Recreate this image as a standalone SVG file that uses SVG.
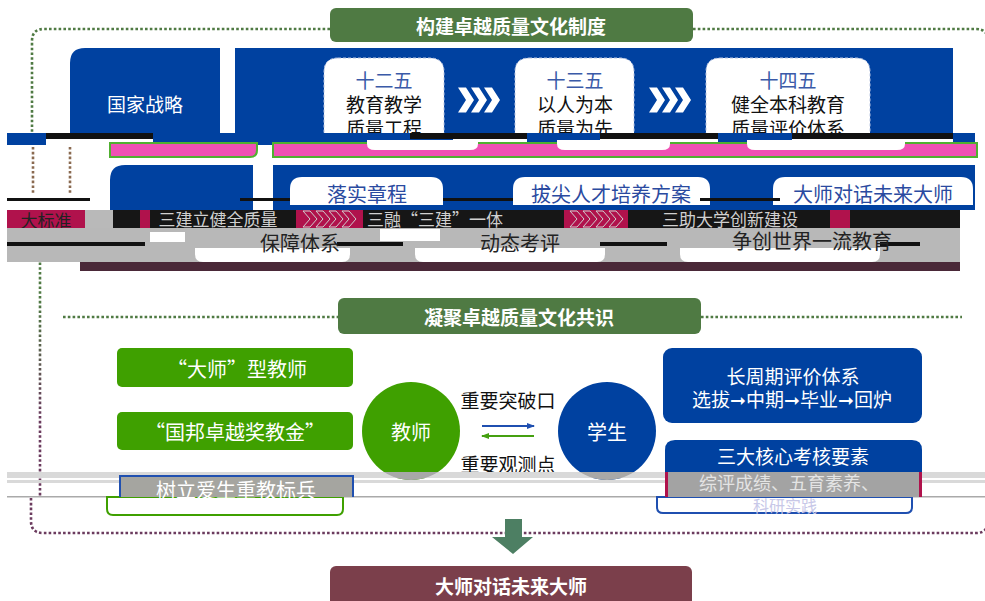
<svg xmlns="http://www.w3.org/2000/svg" width="985" height="601" viewBox="0 0 985 601">
<defs>
  <linearGradient id="dotg" gradientUnits="userSpaceOnUse" x1="0" y1="300" x2="0" y2="420">
    <stop offset="0" stop-color="#4f7a43"/>
    <stop offset="1" stop-color="#6b3b5e"/>
  </linearGradient>
  <marker id="mb" markerWidth="8" markerHeight="8" refX="7" refY="4" orient="auto" markerUnits="userSpaceOnUse">
    <path d="M0,1 L8,4 L0,7 Z" fill="#1f4fb0"/>
  </marker>
  <marker id="mg" markerWidth="8" markerHeight="8" refX="7" refY="4" orient="auto" markerUnits="userSpaceOnUse">
    <path d="M0,1 L8,4 L0,7 Z" fill="#45a010"/>
  </marker>
  <clipPath id="cT"><circle cx="411" cy="431" r="49"/></clipPath>
  <clipPath id="cS"><circle cx="607" cy="431" r="49"/></clipPath>
  <polygon id="chev" points="0,-12.5 8,-12.5 16,0 8,12.5 0,12.5 8,0"/>
  <polygon id="chevs" points="0,-8 7,-8 14,0 7,8 0,8 7,0"/>
</defs>
<style>
  .t{font-family:"Noto Sans CJK SC","Noto Sans",sans-serif;text-anchor:middle;dominant-baseline:central}
  .m{font-family:"Liberation Sans","Noto Sans CJK SC",sans-serif}
  .w{fill:#ffffff}
  .k{fill:#111111}
  .b{font-weight:bold}
  .blue{fill:#0041a0}
  .green{fill:#3fa000}
  .title{fill:#4f7a43}
  .dot{fill:none;stroke-width:2.6;stroke-dasharray:2.6 2.2}
  .wb{fill:#ffffff;stroke:#b8c4e0;stroke-width:1;stroke-dasharray:3 2}
  .hd{fill:#3a5aa8}
</style>

<rect width="985" height="601" fill="#ffffff"/>

<!-- outer dotted frame -->
<g id="frame">
  <path class="dot" stroke="#4f7a43" d="M330,29 H44 Q32,29 32,41 V133"/>
  <path class="dot" stroke="#4f7a43" d="M693,29 H976 Q988,29 988,41 V140"/>
  <path class="dot" stroke="#8a6a50" d="M33,147 V195 M70,147 V195"/>
  <path class="dot" stroke="url(#dotg)" d="M40,200 V497"/>
  <path class="dot" stroke="#6b3b5e" d="M31,498 V521 Q31,533 43,533 H976 Q988,533 988,521"/>
  <path class="dot" stroke="#4f7a43" d="M63,317 H338 M701,317 H962"/>
</g>

<!-- section titles -->
<g id="title1">
  <rect x="330" y="8" width="363" height="34" rx="6" class="title"/>
  <text x="511" y="25" class="t w b" font-size="19">构建卓越质量文化制度</text>
</g>
<g id="title2">
  <rect x="338" y="298" width="363" height="36" rx="6" class="title"/>
  <text x="519" y="316" class="t w b" font-size="19">凝聚卓越质量文化共识</text>
</g>

<!-- row 1 -->
<g id="guojia">
  <path d="M85,48 H220 V140 H70 V63 Q70,48 85,48 Z" class="blue"/>
  <text x="145" y="103" class="t w" font-size="19">国家战略</text>
</g>
<g id="row1">
  <rect x="235" y="48" width="718" height="92" class="blue"/>
</g>
<g id="p125">
  <path d="M338,58 H430 Q444,58 444,72 V145 H324 V72 Q324,58 338,58 Z" class="wb"/>
  <text class="t m k" font-size="19"><tspan x="384" y="81" class="hd">十二五</tspan><tspan x="384" y="105">教育教学</tspan><tspan x="384" y="129">质量工程</tspan></text>
</g>
<g id="p135">
  <path d="M529,58 H620 Q634,58 634,72 V145 H515 V72 Q515,58 529,58 Z" class="wb"/>
  <text class="t m k" font-size="19"><tspan x="575" y="81" class="hd">十三五</tspan><tspan x="575" y="105">以人为本</tspan><tspan x="575" y="129">质量为先</tspan></text>
</g>
<g id="p145">
  <path d="M720,58 H856 Q870,58 870,72 V145 H706 V72 Q706,58 720,58 Z" class="wb"/>
  <text class="t m k" font-size="19"><tspan x="788" y="81" class="hd">十四五</tspan><tspan x="788" y="105">健全本科教育</tspan><tspan x="788" y="129">质量评价体系</tspan></text>
</g>

<!-- glitch strip under row 1 -->
<g id="strip1">
  <rect x="7" y="133" width="968" height="12" class="blue"/>
  <rect x="46" y="133" width="107" height="6" fill="#111"/>
  <rect x="46" y="139" width="107" height="6" fill="#fff"/>
  <rect x="410" y="133" width="117" height="6" fill="#111"/>
  <rect x="600" y="133" width="118" height="6" fill="#111"/>
  <rect x="792" y="133" width="161" height="6" fill="#111"/>
  <rect x="453" y="139" width="74" height="6" fill="#fff"/>
  <rect x="600" y="139" width="118" height="6" fill="#fff"/>
  <rect x="792" y="139" width="161" height="6" fill="#fff"/>
</g>

<!-- pink band -->
<g id="pink">
  <path d="M110,143 H257 V150 Q257,157 250,157 H110 Z" fill="#f050b4" stroke="#50b030" stroke-width="2"/>
  <rect x="273" y="143" width="704" height="14" fill="#f050b4" stroke="#50b030" stroke-width="2"/>
  <path d="M367,140 H478 V144 Q478,150 470,150 H375 Q367,150 367,144 Z" fill="#fff"/>
  <path d="M557,140 H670 V144 Q670,150 662,150 H565 Q557,150 557,144 Z" fill="#fff"/>
  <path d="M747,140 H905 V144 Q905,150 897,150 H755 Q747,150 747,144 Z" fill="#fff"/>
</g>

<!-- row 2 -->
<g id="row2">
  <path d="M125,165 H253 V210 H110 V180 Q110,165 125,165 Z" class="blue"/>
  <rect x="273" y="165" width="702" height="45" class="blue"/>
</g>
<g id="zhangcheng">
  <path d="M302,177 H431 Q443,177 443,189 V205 H290 V189 Q290,177 302,177 Z" fill="#fff"/>
  <text x="367" y="193" class="t" font-size="20" fill="#2a4aa0">落实章程</text>
</g>
<g id="bajian">
  <path d="M525,177 H698 Q710,177 710,189 V205 H513 V189 Q513,177 525,177 Z" fill="#fff"/>
  <text x="611" y="193" class="t" font-size="20" fill="#2a4aa0">拔尖人才培养方案</text>
</g>
<g id="dashi1">
  <path d="M785,177 H961 Q973,177 973,189 V205 H773 V189 Q773,177 785,177 Z" fill="#fff"/>
  <text x="873" y="193" class="t" font-size="20" fill="#2a4aa0">大师对话未来大师</text>
</g>

<!-- glitch band rows -->
<g id="strip2">
  <rect x="7" y="198" width="83" height="3" fill="#111"/>
  <rect x="240" y="198" width="50" height="3" fill="#111"/>
  <rect x="443" y="198" width="70" height="3" fill="#111"/>
  <rect x="700" y="198" width="80" height="3" fill="#111"/>
  <rect x="7" y="201" width="103" height="9" fill="#fff"/>
  <rect x="7" y="210" width="953" height="18" fill="#161616"/>
  <rect x="7" y="210" width="78" height="18" fill="#b0124c"/>
  <rect x="85" y="210" width="28" height="18" fill="#b9b9b9"/>
  <rect x="140" y="210" width="10" height="18" fill="#b0124c"/>
  <rect x="296" y="210" width="67" height="18" fill="#b0124c"/>
  <rect x="564" y="210" width="64" height="18" fill="#b0124c"/>
  <rect x="830" y="210" width="20" height="18" fill="#b0124c"/>
  <text x="46" y="219" class="t" font-size="17" fill="#222">大标准</text>
  <text x="218" y="218" class="t" font-size="17" fill="#d0d0d0">三建立健全质量</text>
  <text x="435" y="218" class="t" font-size="17" fill="#d0d0d0">三融“三建”一体</text>
  <text x="730" y="218" class="t" font-size="17" fill="#d0d0d0">三助大学创新建设</text>
  <rect x="7" y="228" width="953" height="34" fill="#b8b8b8"/>
  <rect x="7" y="242" width="138" height="4" fill="#111"/>
  <rect x="337" y="242" width="66" height="4" fill="#111"/>
  <rect x="600" y="242" width="67" height="4" fill="#111"/>
  <rect x="880" y="242" width="40" height="4" fill="#111"/>
  <rect x="150" y="232" width="35" height="10" fill="#fff"/>
  <rect x="380" y="229" width="60" height="12" fill="#fff"/>
  <path d="M195,248 H350 V254 Q350,262 342,262 H203 Q195,262 195,254 Z" fill="#fff"/>
  <path d="M415,248 H605 V254 Q605,262 597,262 H423 Q415,262 415,254 Z" fill="#fff"/>
  <path d="M680,248 H880 V254 Q880,262 872,262 H688 Q680,262 680,254 Z" fill="#fff"/>
  <text x="300" y="242" class="t" font-size="20" fill="#222">保障体系</text>
  <text x="520" y="242" class="t" font-size="20" fill="#222">动态考评</text>
  <text x="812" y="240" class="t" font-size="20" fill="#222">争创世界一流教育</text>
  <rect x="80" y="262" width="880" height="9" fill="#4a2838"/>
</g>

<!-- lower section -->
<g id="dashi">
  <rect x="117" y="348" width="236" height="39" rx="5" class="green"/>
  <text x="237" y="368" class="t w" font-size="20">“大师”型教师</text>
</g>
<g id="guobang">
  <rect x="117" y="412" width="236" height="38" rx="5" class="green"/>
  <text x="235" y="431" class="t w" font-size="20">“国邦卓越奖教金”</text>
</g>
<g id="teacher">
  <circle cx="411" cy="431" r="49" class="green"/>
  <text x="411" y="431" class="t w" font-size="20">教师</text>
</g>
<g id="student">
  <circle cx="607" cy="431" r="49" class="blue"/>
  <text x="607" y="431" class="t w" font-size="20">学生</text>
</g>
<g id="labels">
  <text x="508" y="399" class="t k" font-size="19">重要突破口</text>
  <text x="508" y="463" class="t k" font-size="19">重要观测点</text>
</g>
<g id="cycle">
  <rect x="663" y="348" width="259" height="75" rx="9" class="blue"/>
  <text class="t m w" font-size="19"><tspan x="793" y="377">长周期评价体系</tspan><tspan x="792" y="400">选拔➞中期➞毕业➞回炉</tspan></text>
</g>

<!-- lower glitch band -->
<g id="strip3">
  <rect x="7" y="472" width="978" height="6" fill="#d9d9d9"/>
  <rect x="7" y="480" width="978" height="3" fill="#d9d9d9"/>
  <rect x="7" y="496" width="978" height="1.5" fill="#aaaaaa"/>
  <rect x="340" y="472" width="140" height="30" fill="#a8a8a8" clip-path="url(#cT)"/>
  <rect x="540" y="472" width="140" height="30" fill="#a8a8a8" clip-path="url(#cS)"/>
</g>
<g id="shuli">
  <path d="M107,497 H343 V509 Q343,515 337,515 H113 Q107,515 107,509 Z" fill="#fff" stroke="#3fa000" stroke-width="2"/>
  <rect x="120" y="476" width="233" height="21" fill="#a5a5a0"/>
  <path d="M120,497 V476 H353 V497" fill="none" stroke="#2050b0" stroke-width="2"/>
  <text x="236" y="489" class="t w" font-size="20">树立爱生重教标兵</text>
</g>
<g id="core">
  <path d="M657,497 H912 V507 Q912,513 906,513 H663 Q657,513 657,507 Z" fill="#fff" stroke="#1f4fb0" stroke-width="2"/>
  <path d="M675,440 H912 Q922,440 922,450 V472 H665 V450 Q665,440 675,440 Z" class="blue"/>
  <rect x="665" y="472" width="257" height="25" fill="#a3a3a3"/>
  <rect x="665" y="472" width="3" height="25" fill="#b0124c"/>
  <rect x="919" y="472" width="3" height="25" fill="#b0124c"/>
  <text class="t m" font-size="19"><tspan x="793" y="457" fill="#ffffff">三大核心考核要素</tspan><tspan x="789" y="484" font-size="18" fill="#e4e4e4">综评成绩、五育素养、</tspan><tspan x="785" y="506" font-size="16" fill="#c8c8e8">科研实践</tspan></text>
</g>

<!-- final target -->
<g id="target">
  <rect x="330" y="566" width="362" height="44" rx="6" fill="#7b3f4b"/>
  <text x="511" y="585" class="t w b" font-size="19">大师对话未来大师</text>
</g>

<!-- connectors -->
<g id="connectors">
  <g fill="#ffffff">
    <use href="#chev" x="458" y="100"/>
    <use href="#chev" x="471" y="100"/>
    <use href="#chev" x="484" y="100"/>
    <use href="#chev" x="649" y="100"/>
    <use href="#chev" x="662" y="100"/>
    <use href="#chev" x="675" y="100"/>
  </g>
  <g fill="#b0124c" stroke="#cfcfcf" stroke-width="1">
    <use href="#chevs" x="303" y="219"/>
    <use href="#chevs" x="316" y="219"/>
    <use href="#chevs" x="329" y="219"/>
    <use href="#chevs" x="342" y="219"/>
    <use href="#chevs" x="570" y="219"/>
    <use href="#chevs" x="583" y="219"/>
    <use href="#chevs" x="596" y="219"/>
    <use href="#chevs" x="609" y="219"/>
  </g>
  <line x1="482" y1="426" x2="534" y2="426" stroke="#1f4fb0" stroke-width="2" marker-end="url(#mb)"/>
  <line x1="534" y1="436" x2="482" y2="436" stroke="#45a010" stroke-width="2" marker-end="url(#mg)"/>
  <polygon points="505,519 522,519 522,537 533,537 513,554 492,537 505,537" fill="#4d7f63"/>
</g>
</svg>
